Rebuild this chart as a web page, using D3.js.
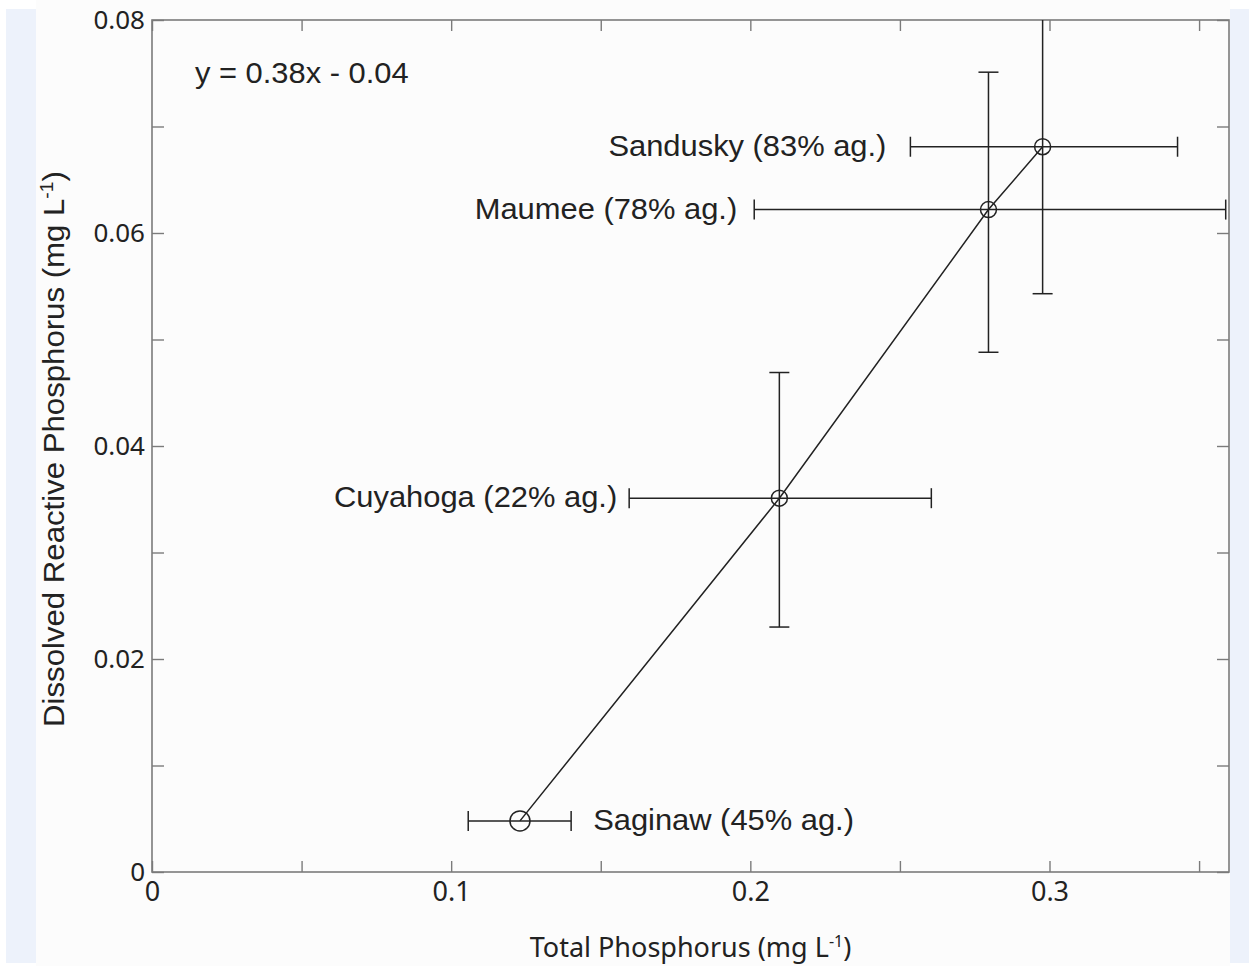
<!DOCTYPE html>
<html>
<head>
<meta charset="utf-8">
<script src="https://cdn.jsdelivr.net/npm/d3@7"></script>
<style>
  html, body { margin: 0; padding: 0; background: #ffffff; }
  svg { display: block; }
</style>
</head>
<body>
<svg id="chart" width="1249" height="966"></svg>
<script>
// ---- data ----
const rivers      = ["Saginaw", "Cuyahoga", "Maumee", "Sandusky"];
const agShare     = ["45%", "22%", "78%", "83%"];
const tp          = [0.123, 0.2097, 0.2796, 0.2977];   // Total Phosphorus (mg/L)
const tpLow       = [0.1057, 0.1595, 0.2013, 0.2535];
const tpHigh      = [0.1401, 0.2605, 0.3589, 0.3428];
const drp         = [0.0048, 0.0351, 0.0622, 0.0681];  // Dissolved Reactive Phosphorus (mg/L)
const drpLow      = [0.0048, 0.0230, 0.0488, 0.0543];
const drpHigh     = [0.0048, 0.0469, 0.0751, 0.0830];
const xTicks      = [0, 0.05, 0.1, 0.15, 0.2, 0.25, 0.3, 0.35];
const xTickLabels = ["0", "", "0.1", "", "0.2", "", "0.3", ""];
const yTicks      = [0, 0.01, 0.02, 0.03, 0.04, 0.05, 0.06, 0.07, 0.08];
const yTickLabels = ["0", "", "0.02", "", "0.04", "", "0.06", "", "0.08"];
const equation    = "y = 0.38x - 0.04";

const data = rivers.map((r, i) => ({
  name: r, ag: agShare[i], x: tp[i], xl: tpLow[i], xh: tpHigh[i],
  y: drp[i], yl: drpLow[i], yh: drpHigh[i]
}));

const svg = d3.select("#chart");
const W = 1249, H = 966;
const L = 152, R = 1229, T = 20, B = 872;

// background panels
svg.append("rect").attr("x", 0).attr("y", 0).attr("width", W).attr("height", H).attr("fill", "#ffffff");
svg.append("rect").attr("x", 6).attr("y", 9).attr("width", 30).attr("height", 954).attr("fill", "#edf2fb");
svg.append("rect").attr("x", 1230).attr("y", 9).attr("width", 19).attr("height", 954).attr("fill", "#edf2fb");
svg.append("rect").attr("x", 36).attr("y", 0).attr("width", 1194).attr("height", H).attr("fill", "#fcfcfc");

const x = d3.scaleLinear().domain([0, 0.36]).range([L, R]);
const y = d3.scaleLinear().domain([0, 0.08]).range([B, T]);

const axisColor = "#7b7b7b";
const ink = "#222222";
const stretch = 1.065;

function styleAxis(g) {
  g.select(".domain").remove();
  g.selectAll(".tick line").attr("stroke", axisColor).attr("stroke-width", 1.4);
  g.selectAll(".tick text").attr("fill", ink);
}

// bottom axis
svg.append("g").attr("transform", `translate(0,${B})`)
  .call(d3.axisBottom(x).tickValues(xTicks).tickSizeInner(-11).tickSizeOuter(0).tickPadding(10)
    .tickFormat((d, i) => xTickLabels[i]))
  .call(styleAxis)
  .call(g => g.selectAll(".tick text").attr("font-family", "'Noto Sans', sans-serif").attr("font-size", 27));

// top axis
svg.append("g").attr("transform", `translate(0,${T})`)
  .call(d3.axisTop(x).tickValues(xTicks).tickSizeInner(-11).tickSizeOuter(0).tickFormat(""))
  .call(styleAxis);

// left axis
svg.append("g").attr("transform", `translate(${L},0)`)
  .call(d3.axisLeft(y).tickValues(yTicks).tickSizeInner(-12).tickSizeOuter(0).tickPadding(7)
    .tickFormat((d, i) => yTickLabels[i]))
  .call(styleAxis)
  .call(g => g.selectAll(".tick text").attr("font-family", "'Noto Sans', sans-serif").attr("font-size", 26));

// right axis
svg.append("g").attr("transform", `translate(${R},0)`)
  .call(d3.axisRight(y).tickValues(yTicks).tickSizeInner(-12).tickSizeOuter(0).tickFormat(""))
  .call(styleAxis);

// frame
svg.append("rect").attr("x", L).attr("y", T).attr("width", R - L).attr("height", B - T)
  .attr("fill", "none").attr("stroke", axisColor).attr("stroke-width", 1.6);

// clip
svg.append("clipPath").attr("id", "plotclip").append("rect")
  .attr("x", L).attr("y", T).attr("width", R - L).attr("height", B - T);

const plot = svg.append("g").attr("clip-path", "url(#plotclip)");

const cap = 10;
// error bars
data.forEach(d => {
  const g = plot.append("g").attr("stroke", ink).attr("stroke-width", 1.5).attr("fill", "none");
  g.append("line").attr("x1", x(d.xl)).attr("x2", x(d.xh)).attr("y1", y(d.y)).attr("y2", y(d.y));
  g.append("line").attr("x1", x(d.xl)).attr("x2", x(d.xl)).attr("y1", y(d.y) - cap).attr("y2", y(d.y) + cap);
  g.append("line").attr("x1", x(d.xh)).attr("x2", x(d.xh)).attr("y1", y(d.y) - cap).attr("y2", y(d.y) + cap);
  if (d.yh > d.yl) {
    g.append("line").attr("x1", x(d.x)).attr("x2", x(d.x)).attr("y1", y(d.yl)).attr("y2", y(d.yh));
    g.append("line").attr("x1", x(d.x) - cap).attr("x2", x(d.x) + cap).attr("y1", y(d.yl)).attr("y2", y(d.yl));
    g.append("line").attr("x1", x(d.x) - cap).attr("x2", x(d.x) + cap).attr("y1", y(d.yh)).attr("y2", y(d.yh));
  }
});

// connecting line
plot.append("path").datum(data)
  .attr("d", d3.line().x(d => x(d.x)).y(d => y(d.y)))
  .attr("fill", "none").attr("stroke", ink).attr("stroke-width", 1.5);

// markers
plot.selectAll("circle.pt").data(data).join("circle")
  .attr("class", "pt")
  .attr("cx", d => x(d.x)).attr("cy", d => y(d.y))
  .attr("r", (d, i) => i === 0 ? 10 : 8)
  .attr("fill", "none").attr("stroke", ink).attr("stroke-width", 1.5);

// labels
const labFont = "'Liberation Sans', Arial, sans-serif";
svg.selectAll("text.lab").data(data).join("text")
  .attr("class", "lab")
  .attr("transform", (d, i) => {
    const lx = i === 0 ? x(d.xh) + 22 : x(d.xl) - (i === 1 ? 12 : (i === 2 ? 17 : 24));
    return `translate(${lx},${y(d.y) + 9}) scale(${stretch},1)`;
  })
  .attr("text-anchor", (d, i) => i === 0 ? "start" : "end")
  .attr("font-family", labFont).attr("font-size", 29).attr("fill", ink)
  .text(d => `${d.name} (${d.ag} ag.)`);

// equation
svg.append("text").attr("transform", `translate(195,83) scale(${stretch},1)`)
  .attr("font-family", labFont).attr("font-size", 29).attr("fill", ink)
  .text(equation);

// x-axis title
const xt = svg.append("text").attr("transform", `translate(${(L + R) / 2},957) scale(1.0,1)`)
  .attr("text-anchor", "middle").attr("font-family", "'Noto Sans', sans-serif")
  .attr("font-size", 27).attr("fill", ink);
xt.append("tspan").text("Total Phosphorus (mg L");
xt.append("tspan").attr("dy", -10).attr("font-size", 16).text("-1");
xt.append("tspan").attr("dy", 10).text(")");

// y-axis title
const yt = svg.append("text")
  .attr("transform", `translate(64,449) rotate(-90) scale(1.075,1)`)
  .attr("text-anchor", "middle").attr("font-family", labFont)
  .attr("font-size", 29).attr("fill", ink);
yt.append("tspan").text("Dissolved Reactive Phosphorus (mg L");
yt.append("tspan").attr("dy", -11).attr("font-size", 18).text("-1");
yt.append("tspan").attr("dy", 11).text(")");
</script>
</body>
</html>
